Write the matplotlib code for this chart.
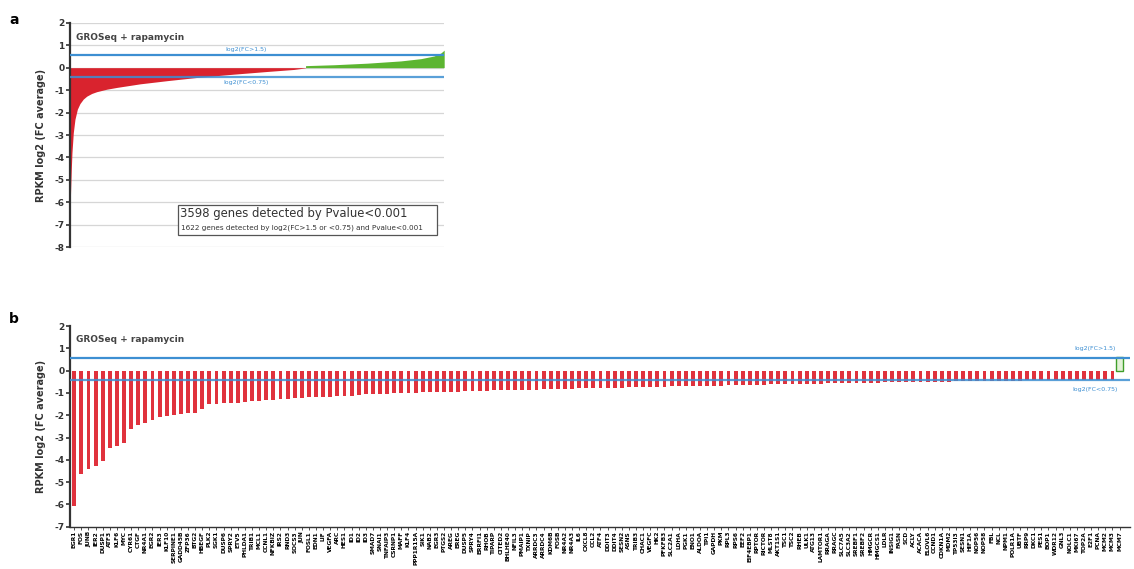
import numpy as np
import matplotlib.pyplot as plt

plt.rcParams['axes.unicode_minus'] = False

# panel a: ranked log2 fold change of all genes passing Pvalue<0.001
n_genes = 3598
rank_down = [0, 6, 13, 19, 32, 48, 71, 96, 128, 161, 209, 257, 353, 450,
             675, 932, 1253, 1574, 1895, 2152, 2265]
fc_down = [-6.5, -5.5, -4.5, -3.8, -2.9, -2.3, -1.85, -1.6, -1.4, -1.27, -1.15,
           -1.07, -0.96, -0.88, -0.72, -0.58, -0.42, -0.29, -0.17, -0.08, -0.01]
rank_up = [2265, 2538, 2859, 3180, 3373, 3501, 3565, 3598]
fc_up = [0.09, 0.13, 0.2, 0.3, 0.4, 0.52, 0.65, 0.78]

# panel b: genes passing both cut-offs
gene_names = [
    "EGR1", "FOS", "JUNB", "IER2", "DUSP1", "ATF3", "KLF6", "MYC", "CYR61", "CTGF",
    "NR4A1", "EGR2", "IER3", "KLF10", "SERPINE1", "GADD45B", "ZFP36", "BTG2", "HBEGF", "PLK2",
    "SGK1", "DUSP6", "SPRY2", "ETV5", "PHLDA1", "TRIB1", "MCL1", "CCNL1", "NFKBIZ", "IRS2",
    "RND3", "SOCS3", "JUN", "FOSL1", "EDN1", "LIF", "VEGFA", "ARC", "HES1", "ID1",
    "ID2", "ID3", "SMAD7", "SNAI1", "TNFAIP3", "CSRNP1", "MAFF", "KLF4", "PPP1R15A", "SIK1",
    "NAB2", "EGR3", "PTGS2", "AREG", "EREG", "DUSP5", "SPRY4", "ERRFI1", "RHOB", "TIPARP",
    "CITED2", "BHLHE40", "NFIL3", "PMAIP1", "TXNIP", "ARRDC3", "ARRDC4", "KDM6B", "FOSB", "NR4A2",
    "NR4A3", "IL6", "CXCL8", "CCL2", "ATF4", "DDIT3", "DDIT4", "SESN2", "ASNS", "TRIB3",
    "CHAC1", "VEGFC", "HK2", "PFKFB3", "SLC2A1", "LDHA", "PGK1", "ENO1", "ALDOA", "TPI1",
    "GAPDH", "PKM", "RPL3", "RPS6", "EEF2", "EIF4EBP1", "RPTOR", "RICTOR", "MLST8", "AKT1S1",
    "TSC1", "TSC2", "RHEB", "ULK1", "ATG13", "LAMTOR1", "RRAGA", "RRAGC", "SLC7A5", "SLC3A2",
    "SREBF1", "SREBF2", "HMGCR", "HMGCS1", "LDLR", "INSIG1", "FASN", "SCD", "ACLY", "ACACA",
    "ELOVL6", "CCND1", "CDKN1A", "MDM2", "TP53I3", "SESN1", "HIF1A", "NOP56", "NOP58", "FBL",
    "NCL", "NPM1", "POLR1A", "UBTF", "RRP9", "DKC1", "PES1", "BOP1", "WDR12", "GNL3",
    "NOLC1", "MKI67", "TOP2A", "E2F1", "PCNA", "MCM2", "MCM3", "MCM7"]
gene_fc = [
    -6.08, -4.63, -4.40, -4.28, -4.05, -3.48, -3.40, -3.23, -2.62, -2.42,
    -2.35, -2.22, -2.08, -2.02, -1.97, -1.95, -1.92, -1.88, -1.70, -1.50,
    -1.49, -1.47, -1.46, -1.44, -1.40, -1.37, -1.34, -1.33, -1.30, -1.26,
    -1.26, -1.24, -1.21, -1.20, -1.19, -1.17, -1.16, -1.15, -1.14, -1.12,
    -1.10, -1.07, -1.06, -1.04, -1.03, -1.02, -1.01, -1.00, -0.99, -0.98,
    -0.97, -0.96, -0.95, -0.94, -0.94, -0.93, -0.92, -0.91, -0.90, -0.89,
    -0.89, -0.88, -0.87, -0.86, -0.85, -0.85, -0.84, -0.83, -0.82, -0.81,
    -0.81, -0.80, -0.79, -0.79, -0.78, -0.77, -0.77, -0.76, -0.75, -0.75,
    -0.74, -0.73, -0.73, -0.72, -0.71, -0.71, -0.70, -0.69, -0.69, -0.68,
    -0.67, -0.67, -0.66, -0.65, -0.65, -0.64, -0.63, -0.63, -0.62, -0.61,
    -0.61, -0.60, -0.60, -0.59, -0.58, -0.58, -0.57, -0.57, -0.56, -0.56,
    -0.55, -0.55, -0.54, -0.54, -0.53, -0.53, -0.52, -0.52, -0.51, -0.51,
    -0.50, -0.50, -0.49, -0.49, -0.48, -0.48, -0.47, -0.47, -0.47, -0.46,
    -0.46, -0.45, -0.45, -0.45, -0.44, -0.44, -0.44, -0.43, -0.43, -0.43,
    -0.43, -0.42, -0.42, -0.42, -0.42, -0.42, -0.42, 0.62]

up_cut = np.log2(1.5)
down_cut = np.log2(0.75)

red = '#d9232e'
green = '#5cb531'
blue = '#3d8fd2'
dark = '#333333'

fig = plt.figure(figsize=(11.34, 5.69), dpi=100)


def style_left(ax, ticks):
    for s in ['top', 'right']:
        ax.spines[s].set_visible(False)
    ax.spines['left'].set_color(dark)
    ax.spines['left'].set_linewidth(1.6)
    ax.set_yticks(ticks)
    ax.tick_params(axis='y', length=3, width=1.2, color=dark, pad=1,
                   labelsize=6.5, labelcolor=dark)
    for t in ax.get_yticklabels():
        t.set_fontweight('bold')
    ax.set_ylabel('RPKM log2 (FC average)', fontsize=7, fontweight='bold',
                  color=dark, labelpad=6)


# ---- a ----
ax1 = fig.add_axes([0.0617, 0.5654, 0.330, 0.3946])
ax1.set_xlim(0, n_genes)
ax1.set_ylim(-8, 2)
for yv in range(-8, 3):
    ax1.axhline(yv, color='#d6d6d6', lw=0.9, zorder=0)
ax1.fill_between(rank_down, fc_down, 0, color=red, lw=0, zorder=1)
ax1.fill_between(rank_up, fc_up, 0, color=green, lw=0, zorder=1)
ax1.axhline(up_cut, color=blue, lw=1.6, zorder=3)
ax1.axhline(down_cut, color=blue, lw=1.6, alpha=0.85, zorder=3)
ax1.text(0.47, up_cut + 0.12, 'log2(FC>1.5)', transform=ax1.get_yaxis_transform(),
         ha='center', va='bottom', fontsize=4.5, color=blue)
ax1.text(0.47, down_cut - 0.12, 'log2(FC<0.75)', transform=ax1.get_yaxis_transform(),
         ha='center', va='top', fontsize=4.5, color=blue)
ax1.text(0.015, 0.955, 'GROSeq + rapamycin', transform=ax1.transAxes, ha='left',
         va='top', fontsize=6.5, fontweight='bold', color='#444444')
ax1.spines['bottom'].set_visible(False)
ax1.set_xticks([])
style_left(ax1, range(-8, 3))
box = plt.Rectangle((0.289, 0.055), 0.692, 0.135, transform=ax1.transAxes,
                    fill=True, facecolor='white', edgecolor='#555555', lw=0.9, zorder=4)
ax1.add_patch(box)
ax1.text(0.293, 0.152, '3598 genes detected by Pvalue<0.001', transform=ax1.transAxes,
         ha='left', va='center', fontsize=8.4, color='#333333', zorder=5)
ax1.text(0.297, 0.088, '1622 genes detected by log2(FC>1.5 or <0.75) and Pvalue<0.001',
         transform=ax1.transAxes, ha='left', va='center', fontsize=5.2,
         color='#333333', zorder=5)

# ---- b ----
ax2 = fig.add_axes([0.0617, 0.0743, 0.935, 0.3527])
pos = np.arange(len(gene_fc))
vals = np.array(gene_fc)
down = vals < 0
ax2.bar(pos[down], vals[down], width=0.55, color='#e0323d', lw=0, zorder=1)
ax2.bar(pos[~down], vals[~down], width=0.9, facecolor='#e3f2d8',
        edgecolor='#3f9e2a', lw=1.0, zorder=1)
ax2.set_xlim(-0.6, len(gene_fc) + 0.5)
ax2.set_ylim(-7, 2)
ax2.axhline(up_cut, color=blue, lw=1.6, zorder=3)
ax2.axhline(down_cut, color=blue, lw=1.6, alpha=0.85, zorder=3)
ax2.text(0.967, up_cut + 0.3, 'log2(FC>1.5)', transform=ax2.get_yaxis_transform(),
         ha='center', va='bottom', fontsize=4.5, color=blue)
ax2.text(0.967, down_cut - 0.3, 'log2(FC<0.75)', transform=ax2.get_yaxis_transform(),
         ha='center', va='top', fontsize=4.5, color=blue)
ax2.text(0.006, 0.955, 'GROSeq + rapamycin', transform=ax2.transAxes, ha='left',
         va='top', fontsize=6.5, fontweight='bold', color='#444444')
style_left(ax2, range(-7, 3))
ax2.spines['bottom'].set_color(dark)
ax2.spines['bottom'].set_linewidth(1.0)
ax2.set_xticks(pos)
ax2.set_xticklabels(gene_names, rotation=90, fontsize=4.2, fontweight='bold')
ax2.tick_params(axis='x', length=2, width=0.6, color=dark, pad=1)

fig.text(0.008, 0.965, 'a', fontsize=10, fontweight='bold', va='center')
fig.text(0.008, 0.44, 'b', fontsize=10, fontweight='bold', va='center')

fig.savefig('out.png', dpi=100)
